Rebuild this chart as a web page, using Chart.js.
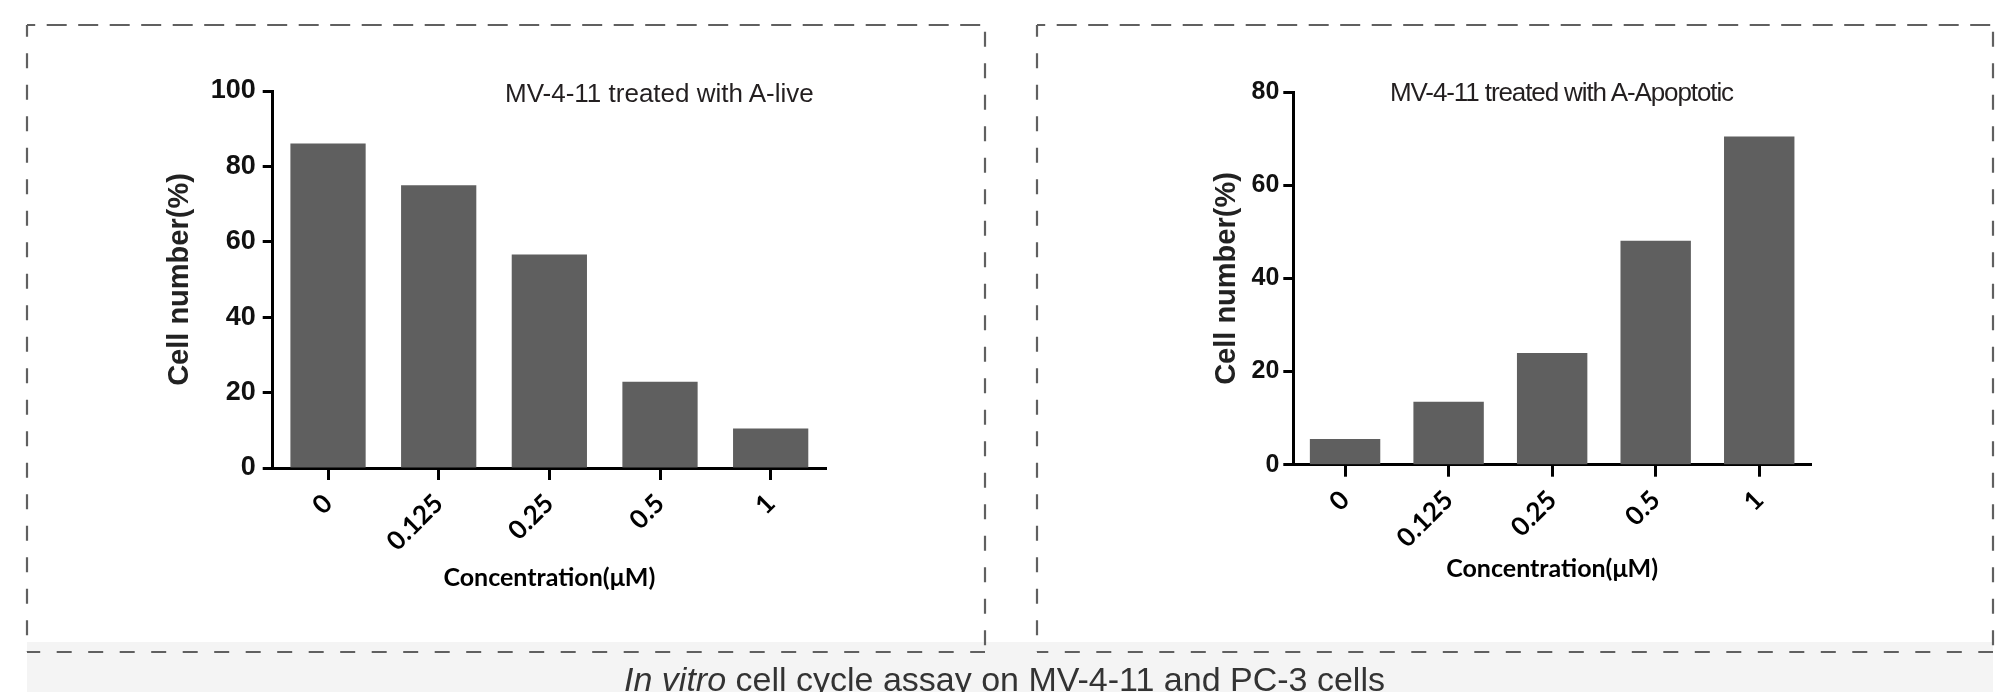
<!DOCTYPE html>
<html>
<head>
<meta charset="utf-8">
<title>In vitro cell cycle assay</title>
<script src="https://cdn.jsdelivr.net/npm/chart.js@4.4.0/dist/chart.umd.min.js"></script>
<style>
    html, body { margin: 0; padding: 0; background: #fff; width: 2009px; height: 692px; overflow: hidden; }
    body { position: relative; }
    .abs { position: absolute; }
    #caption-bg { left: 27px; top: 642px; width: 1966px; height: 60px; background: #f4f4f4; z-index: 0; }
    #frames { left: 0; top: 0; z-index: 1; }
    canvas { position: absolute; left: 0; top: 0; z-index: 2; }
    .plot-title { font-family: "Liberation Sans", Arial, sans-serif; font-size: 26px; line-height: 26px; color: #231f20; white-space: nowrap; z-index: 3; }
    #title-right { letter-spacing: -1.1px; }
    #caption { left: 0; width: 2009px; top: 662px; text-align: center; font-family: "Liberation Sans", Arial, sans-serif; font-size: 34px; line-height: 34px; color: #333; white-space: nowrap; z-index: 3; }
</style>
</head>
<body>
<div id="caption-bg" class="abs"></div>
<svg id="frames" class="abs" width="2009" height="692"></svg>
<canvas id="chart-live" width="2009" height="692"></canvas>
<canvas id="chart-apoptotic" width="2009" height="692"></canvas>
<div id="title-left" class="abs plot-title" style="left:505px; top:80px;">MV-4-11 treated with A-live</div>
<div id="title-right" class="abs plot-title" style="left:1390px; top:79px;">MV-4-11 treated with A-Apoptotic</div>
<div id="caption" class="abs"><i>In vitro</i> cell cycle assay on MV-4-11 and PC-3 cells</div>
<script>
// data
var concentrations = ['0', '0.125', '0.25', '0.5', '1'];
var liveValues = [86.1, 75.0, 56.6, 22.9, 10.5];
var apoptoticValues = [5.5, 13.5, 24.0, 48.1, 70.5];
var liveTicks = [0, 20, 40, 60, 80, 100];
var apoptoticTicks = [0, 20, 40, 60, 80];

var BAR_COLOR = '#5f5f5f';
var FRAME_COLOR = '#606060';
var PERIOD = 31.5;

/* dashed panel frames */
function dashLine(svg, x1, y1, x2, y2, dash, start) {
    var from = (x1 === x2) ? y1 : x1;
    var off = ((from - start) % PERIOD + PERIOD) % PERIOD;
    var ln = document.createElementNS('http://www.w3.org/2000/svg', 'line');
    ln.setAttribute('x1', x1);
    ln.setAttribute('y1', y1);
    ln.setAttribute('x2', x2);
    ln.setAttribute('y2', y2);
    ln.setAttribute('stroke', FRAME_COLOR);
    ln.setAttribute('stroke-width', 2.2);
    ln.setAttribute('stroke-dasharray', dash + ' ' + (PERIOD - dash));
    ln.setAttribute('stroke-dashoffset', off);
    svg.appendChild(ln);
}

function drawFrame(svg, l, t, r, b, starts) {
    dashLine(svg, l, t, r, t, 20, starts.top);
    dashLine(svg, l, t, l, b, 15, starts.left);
    dashLine(svg, r, t, r, b, 15, starts.right);
    dashLine(svg, l, b, r, b, 15, starts.bottom);
}

var svg = document.getElementById('frames');
drawFrame(svg, 27, 25, 985, 652, { top: 46.7, left: 53.3, right: 63.3, bottom: 56.7 });
drawFrame(svg, 1037, 25, 1993, 652, { top: 1056.7, left: 53.3, right: 31.7, bottom: 1033.3 });

/* bar charts */
function makeChart(id, values, yTicks, box) {
    var yMax = yTicks[yTicks.length - 1];
    return new Chart(document.getElementById(id), {
        type: 'bar',
        data: {
            labels: concentrations,
            datasets: [{
                data: values,
                backgroundColor: BAR_COLOR,
                borderWidth: 0,
                barPercentage: 0.68,
                categoryPercentage: 1
            }]
        },
        options: {
            responsive: false,
            animation: false,
            devicePixelRatio: 1,
            layout: { padding: box.padding },
            plugins: {
                legend: { display: false },
                tooltip: { enabled: false }
            },
            scales: {
                x: {
                    grid: { offset: false, drawOnChartArea: false, drawTicks: true, tickLength: 12, tickWidth: 3, tickColor: '#000' },
                    border: { display: true, color: '#000', width: 3 },
                    ticks: {
                        autoSkip: false, minRotation: 45, maxRotation: 45, padding: 8, color: '#000',
                        font: { family: 'Lato', weight: 'bold', size: 26 }
                    },
                    title: {
                        display: true, text: 'Concentration(μM)', padding: 0, color: '#000',
                        font: { family: 'Lato', weight: 'bold', size: 25 }
                    },
                    afterFit: function (s) { s.height = box.xHeight; }
                },
                y: {
                    min: 0,
                    max: yMax,
                    afterBuildTicks: function (s) {
                        s.ticks = yTicks.map(function (v) { return { value: v }; });
                    },
                    grid: { drawOnChartArea: false, drawTicks: true, tickLength: 10, tickWidth: 3, tickColor: '#000' },
                    border: { display: true, color: '#000', width: 3 },
                    ticks: {
                        padding: box.yPad, color: '#111',
                        font: { family: '"Liberation Sans", Arial, sans-serif', weight: 'bold', size: box.yFont }
                    },
                    title: {
                        display: true, text: 'Cell number(%)', padding: 0, color: '#222',
                        font: { family: '"Liberation Sans", Arial, sans-serif', weight: 'bold', size: 29 }
                    },
                    afterFit: function (s) { s.width = box.yWidth; }
                }
            }
        }
    });
}

makeChart('chart-live', liveValues, liveTicks, {
    padding: { left: 162.6, top: 91, right: 1183, bottom: 99 },
    yWidth: 110.1,
    xHeight: 125,
    yPad: 7,
    yFont: 27
});

makeChart('chart-apoptotic', apoptoticValues, apoptoticTicks, {
    padding: { left: 1209.6, top: 92.3, right: 198, bottom: 108 },
    yWidth: 83.7,
    xHeight: 119.3,
    yPad: 4,
    yFont: 25
});
</script>
</body>
</html>
